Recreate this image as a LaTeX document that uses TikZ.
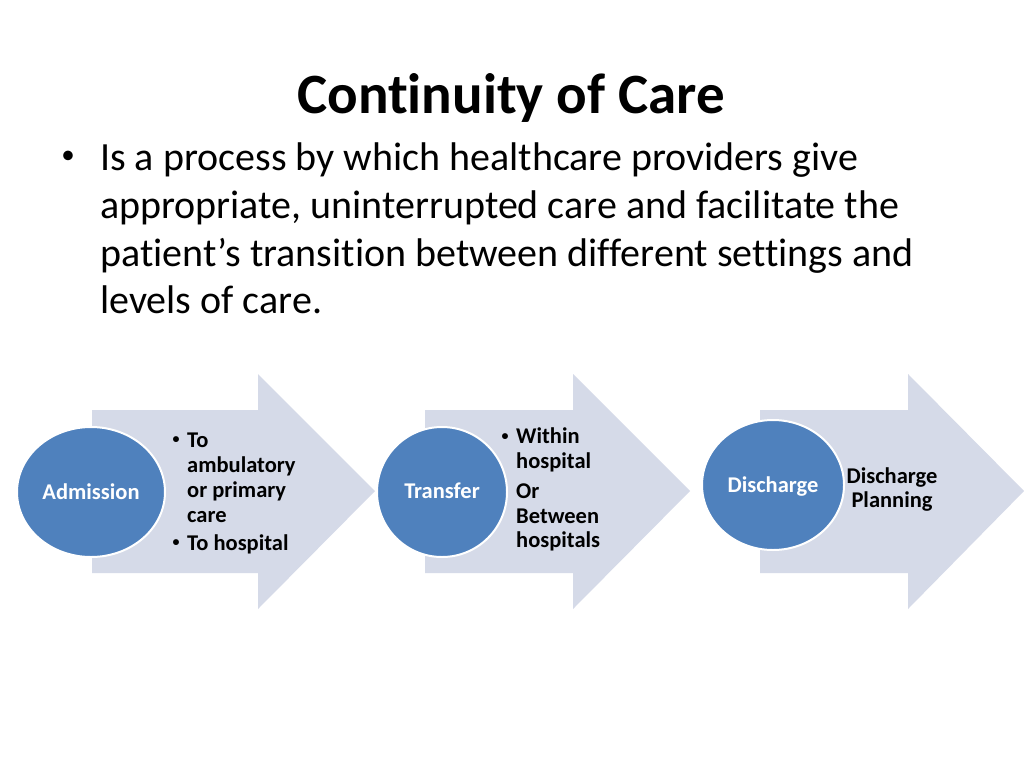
\documentclass[tikz,border=0pt]{standalone}
\usepackage{fontspec}
\setmainfont{Carlito}[Ligatures={NoCommon}]
\definecolor{arrowfill}{HTML}{D5DAE8}
\definecolor{circfill}{HTML}{4F81BD}
\begin{document}
\begin{tikzpicture}[x=1pt,y=-1pt,
  title/.style={font=\fontsize{57}{60}\selectfont\bfseries, anchor=base},
  body/.style={font=\fontsize{40}{48}\selectfont, anchor=base west, inner sep=0},
  bigdot/.style={font=\fontsize{27}{27}\selectfont, anchor=center, inner sep=0},
  smalldot/.style={font=\fontsize{14}{14}\selectfont\bfseries, anchor=center, inner sep=0},
  small/.style={font=\fontsize{22.5}{25}\selectfont\bfseries, anchor=base west, inner sep=0},
  smallc/.style={font=\fontsize{22.5}{25}\selectfont\bfseries, anchor=base, inner sep=0},
  circlabel/.style={font=\fontsize{22.5}{25}\selectfont\bfseries, text=white, anchor=base, inner sep=0},
  bigarrow/.style={fill=arrowfill, draw=none},
  stage/.style={fill=circfill, draw=white, line width=2pt}
]
\useasboundingbox (0,0) rectangle (1024,768);
\fill[white] (0,0) rectangle (1024,768);

% title and body
\node[title] (t) at (511,113) {Continuity of Care};
\node[bigdot] (b0) at (68,157) {•};
\node[body] (b1) at (100,170) {Is a process by which healthcare providers give};
\node[body] (b2) at (100,218) {appropriate, uninterrupted care and facilitate the};
\node[body] (b3) at (100,266) {patient’s transition between different settings and};
\node[body] (b4) at (100,313) {levels of care.};

% arrows
\foreach \bx/\hx/\tx in {92/258/375, 425/573/690, 760/908/1024}{
  \fill[bigarrow] (\bx,410) -- (\hx,410) -- (\hx,374) -- (\tx,491) -- (\hx,609) -- (\hx,573) -- (\bx,573) -- cycle;
}

% circles
\draw[stage] (91,492) ellipse [x radius=74, y radius=65];
\draw[stage] (442,492) ellipse [x radius=65, y radius=65];
\draw[stage] (773,485) ellipse [x radius=71, y radius=65];

\node[circlabel] (c1) at (91,499) {Admission};
\node[circlabel] (c2) at (442,498) {Transfer};
\node[circlabel] (c3) at (773,492) {Discharge};

% arrow 1 text
\node[smalldot] (a0) at (176,440) {•};
\node[small] (a1) at (187,447) {To};
\node[small] (a2) at (187,472) {ambulatory};
\node[small] (a3) at (187,497) {or primary};
\node[small] (a4) at (187,522) {care};
\node[smalldot] (a5) at (176,543) {•};
\node[small] (a6) at (187,550) {To hospital};

% arrow 2 text
\node[smalldot] (d0) at (505,437) {•};
\node[small] (d1) at (516,443) {Within};
\node[small] (d2) at (516,468) {hospital};
\node[small] (d3) at (516,498) {Or};
\node[small] (d4) at (516,523) {Between};
\node[small] (d5) at (516,547) {hospitals};

% arrow 3 text
\node[smallc] (e1) at (892,483) {Discharge};
\node[smallc] (e2) at (892,507) {Planning};
\end{tikzpicture}
\end{document}
